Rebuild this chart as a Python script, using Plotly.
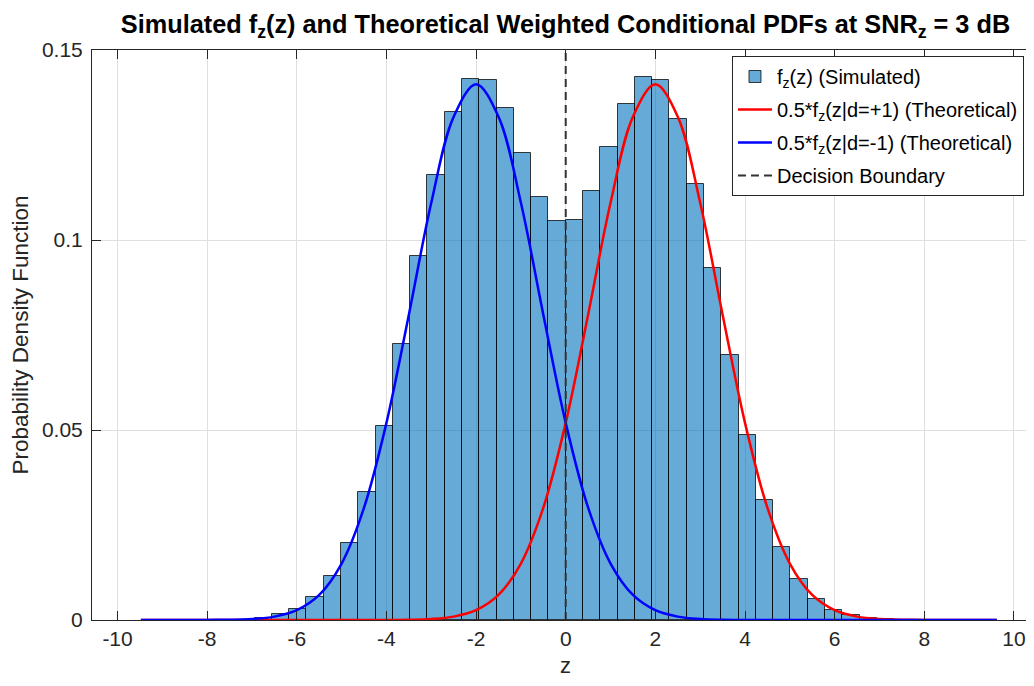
import plotly.graph_objects as go

# ---------------- data ----------------
bin_centers = [-7.136, -6.750, -6.364, -5.978, -5.593, -5.207, -4.821, -4.436,
               -4.050, -3.664, -3.279, -2.893, -2.507, -2.121, -1.736, -1.350,
               -0.964, -0.579, -0.193, 0.193, 0.579, 0.964, 1.350, 1.736,
               2.121, 2.507, 2.893, 3.279, 3.664, 4.050, 4.436, 4.821,
               5.207, 5.593, 5.978, 6.364, 6.750, 7.136]
bin_width = 0.3857
pdf_simulated = [0.0001, 0.0004, 0.0015, 0.0029, 0.0060, 0.0116, 0.0203, 0.0336,
                 0.0511, 0.0727, 0.0957, 0.1171, 0.1337, 0.1423, 0.1421, 0.1347,
                 0.1228, 0.1113, 0.1049, 0.1053, 0.1130, 0.1246, 0.1359, 0.1428,
                 0.1421, 0.1319, 0.1148, 0.0927, 0.0698, 0.0488, 0.0316, 0.0192,
                 0.0107, 0.0056, 0.0027, 0.0013, 0.0005, 0.0002]

z_curve = [-9.48, -8, -7, -6.5, -6, -5.5, -5, -4.5, -4, -3.5, -3, -2.5, -2, -1.5,
           -1, -0.5, 0, 0.5, 1, 1.5, 2, 2.5, 3, 3.5, 4, 4.5, 5, 5.5, 6, 6.5, 7,
           8, 9.62]
pdf_plus = [0, 0, 0, 0, 0, 0, 0, 0, 0.00002, 0.00007, 0.00027, 0.00089, 0.00258,
            0.00659, 0.01486, 0.02955, 0.05187, 0.08034, 0.1098, 0.13245, 0.141,
            0.13245, 0.1098, 0.08034, 0.05187, 0.02955, 0.01486, 0.00659, 0.00258,
            0.00089, 0.00027, 0.00002, 0]
pdf_minus = [0, 0.00002, 0.00027, 0.00089, 0.00258, 0.00659, 0.01486, 0.02955,
             0.05187, 0.08034, 0.1098, 0.13245, 0.141, 0.13245, 0.1098, 0.08034,
             0.05187, 0.02955, 0.01486, 0.00659, 0.00258, 0.00089, 0.00027,
             0.00007, 0.00002, 0, 0, 0, 0, 0, 0, 0, 0]

decision_boundary = 0
y_limits = [0, 0.15]
x_limits = [-10.57, 10.56]

x_ticks = [-10, -8, -6, -4, -2, 0, 2, 4, 6, 8, 10]
x_tick_labels = ["-10", "-8", "-6", "-4", "-2", "0", "2", "4", "6", "8", "10"]
y_ticks = [0, 0.05, 0.1, 0.15]
y_tick_labels = ["0", "0.05", "0.1", "0.15"]

names = ["f<sub>z</sub>(z) (Simulated)",
         "0.5*f<sub>z</sub>(z|d=+1) (Theoretical)",
         "0.5*f<sub>z</sub>(z|d=-1) (Theoretical)",
         "Decision Boundary"]

# ---------------- figure ----------------
FONT = "Liberation Sans, Arial, Helvetica, sans-serif"
AX = "#262626"
BAR_FILL = "rgba(0,114,189,0.6)"
BAR_EDGE = "rgba(0,0,0,0.75)"

fig = go.Figure()
fig.add_trace(go.Bar(
    x=bin_centers, y=pdf_simulated, width=bin_width, name=names[0],
    marker=dict(color=BAR_FILL, line=dict(color=BAR_EDGE, width=1)),
    legendgroup="g1"))
fig.add_trace(go.Scatter(
    x=z_curve, y=pdf_plus, mode="lines", name=names[1],
    line=dict(color="#ff0000", width=2.5, shape="spline"),
    legendgroup="g2"))
fig.add_trace(go.Scatter(
    x=z_curve, y=pdf_minus, mode="lines", name=names[2],
    line=dict(color="#0000ff", width=2.5, shape="spline"),
    legendgroup="g3"))
fig.add_trace(go.Scatter(
    x=[decision_boundary, decision_boundary], y=y_limits, mode="lines",
    name=names[3], line=dict(color="#333333", width=2, dash="8px,5px"),
    legendgroup="g4"))

fig.update_layout(
    width=1034, height=678,
    margin=dict(l=84, r=3, t=42, b=66, autoexpand=False),
    paper_bgcolor="white", plot_bgcolor="white",
    font=dict(family=FONT, color=AX, size=21),
    bargap=0,
    title=dict(
        text="<b>Simulated f<sub>z</sub>(z) and Theoretical Weighted Conditional PDFs at SNR<sub>z</sub> = 3 dB</b>",
        font=dict(family=FONT, size=25.3, color="#000000"),
        x=0.5, xref="paper", xanchor="center",
        y=1 - 16 / 678, yref="container", yanchor="middle"),
    legend=dict(
        x=0.6758, y=0.9895, xanchor="left", yanchor="top",
        bgcolor="white", bordercolor=AX, borderwidth=1,
        font=dict(family=FONT, size=20, color="#000000"),
        tracegroupgap=4, itemwidth=34),
    showlegend=True,
)
fig.update_xaxes(
    range=x_limits, tickvals=x_ticks, ticktext=x_tick_labels,
    showline=True, linecolor=AX, linewidth=1, mirror="ticks",
    ticks="inside", ticklen=9, tickcolor=AX, tickwidth=1,
    showgrid=True, gridcolor="#dfdfdf", gridwidth=1, zeroline=False,
    tickfont=dict(size=21, color=AX),
    title=dict(text="z", font=dict(size=22, color=AX), standoff=8))
fig.update_yaxes(
    range=y_limits, tickvals=y_ticks, ticktext=y_tick_labels,
    showline=True, linecolor=AX, linewidth=1, mirror=False,
    ticks="inside", ticklen=9, tickcolor=AX, tickwidth=1,
    showgrid=True, gridcolor="#dfdfdf", gridwidth=1, zeroline=False,
    tickfont=dict(size=21, color=AX), ticklabelstandoff=4,
    title=dict(text="Probability Density Function", font=dict(size=22.5, color=AX),
               standoff=8))

fig.write_html("out.html")
